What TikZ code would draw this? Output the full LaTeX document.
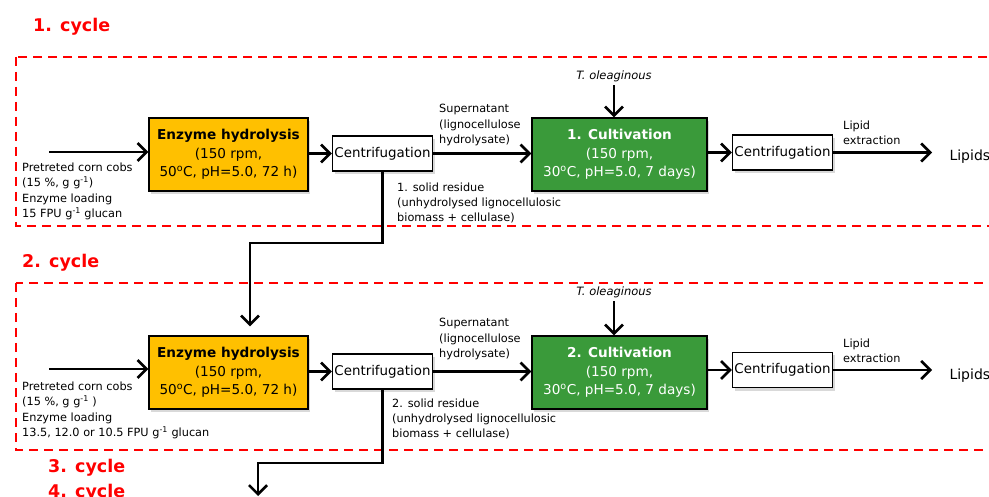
\documentclass[tikz,border=0pt]{standalone}
\usepackage{fontspec}
\setmainfont{DejaVu Sans}
\usetikzlibrary{arrows.meta,shadows}

\begin{document}
\begin{tikzpicture}[x=1pt,y=-1pt,>={Straight Barb[length=9pt,width=18pt]}]

\definecolor{hydorange}{RGB}{255,192,0}
\definecolor{cultgreen}{RGB}{58,154,58}
\definecolor{cyclered}{RGB}{255,0,0}

% Canvas
\useasboundingbox (0,0) rectangle (989,497);
\clip (0,0) rectangle (989,497);

\tikzset{
    process box/.style={
        draw=black, line width=1.3pt, fill=#1,
        rectangle, minimum width=159pt, minimum height=73pt,
        inner sep=2pt, align=center,
        font=\fontsize{13.6}{18.5}\selectfont,
        drop shadow={opacity=0.3, shadow xshift=2pt, shadow yshift=-3pt}
    },
    centri box/.style={
        draw=black, line width=1.3pt, fill=white,
        rectangle, minimum width=100pt, minimum height=35pt,
        inner sep=1pt, font=\fontsize{13.4}{15}\selectfont,
        drop shadow={opacity=0.3, shadow xshift=2pt, shadow yshift=-3pt}
    },
    small label/.style={
        anchor=north west, align=left, inner sep=0pt,
        font=\fontsize{11.3}{15.5}\selectfont
    },
    cycle label/.style={
        anchor=west, inner sep=0pt, text=cyclered,
        font=\bfseries\fontsize{17.5}{20}\selectfont
    },
    cycle frame/.style={
        draw=cyclered, line width=1.6pt, dash pattern=on 9pt off 6pt
    },
    flow/.style={
        ->, line width=2.6pt
    }
}

% --- 1. CYCLE ---
\node[cycle label] (cyc1) at (33,27) {1. cycle};
\draw[cycle frame] (16,57) rectangle (1000,226);

\node[process box=hydorange] (hyd1) at (228.5,154.5) {\textbf{Enzyme hydrolysis}\\(150 rpm,\\50\textsuperscript{o}C, pH=5.0, 72 h)};
\node[centri box] (cen1a) at (382.5,153.5) {Centrifugation};
\node[process box=cultgreen, text=white, minimum width=175pt] (cult1) at (619.5,154.5) {\textbf{1. Cultivation}\\(150 rpm,\\30\textsuperscript{o}C, pH=5.0, 7 days)};
\node[centri box] (cen1b) at (782.5,152.5) {Centrifugation};
\node[font=\itshape\fontsize{11.5}{13}\selectfont] (tole1) at (614,76) {T. oleaginous};
\node[anchor=west, font=\fontsize{14}{16}\selectfont] (lip1) at (946,157) {Lipids};

\node[small label] (feed1) at (22,162.4) {Pretreted corn cobs\\(15 \%, g g\textsuperscript{-1})\\Enzyme loading\\15 FPU g\textsuperscript{-1} glucan};
\node[small label] (sup1) at (439,104.4) {Supernatant\\(lignocellulose\\hydrolysate)};
\node[small label, font=\fontsize{11.3}{15}\selectfont] (res1) at (397,182.4) {1. solid residue\\(unhydrolysed lignocellulosic\\biomass + cellulase)};
\node[small label] (ext1) at (843,120.4) {Lipid\\extraction};

\coordinate (in1) at (49,152);
\coordinate (out1) at (932,152.5);
\coordinate (fb1) at (250,243);

\draw[flow] (in1) -- (in1 -| hyd1.west);
\draw[flow] (hyd1.east |- cen1a.west) -- (cen1a.west);
\draw[flow] (cen1a.east) -- (cen1a.east -| cult1.west);
\draw[flow] (cult1.east |- cen1b.west) -- (cen1b.west);
\draw[flow] (cen1b.east) -- (out1);
\draw[flow] (tole1) -- (tole1 |- cult1.north);

% --- 2. CYCLE ---
\node[cycle label] (cyc2) at (22,263) {2. cycle};
\draw[cycle frame] (16,283) rectangle (1000,450);

\node[process box=hydorange] (hyd2) at (228.5,372.5) {\textbf{Enzyme hydrolysis}\\(150 rpm,\\50\textsuperscript{o}C, pH=5.0, 72 h)};
\node[centri box] (cen2a) at (382.5,371.5) {Centrifugation};
\node[process box=cultgreen, text=white, minimum width=175pt] (cult2) at (619.5,372.5) {\textbf{2. Cultivation}\\(150 rpm,\\30\textsuperscript{o}C, pH=5.0, 7 days)};
\node[centri box] (cen2b) at (782.5,370) {Centrifugation};
\node[font=\itshape\fontsize{11.5}{13}\selectfont] (tole2) at (614,292) {T. oleaginous};
\node[anchor=west, font=\fontsize{14}{16}\selectfont] (lip2) at (946,376) {Lipids};

\node[small label] (feed2) at (22,381.4) {Pretreted corn cobs\\(15 \%, g g\textsuperscript{-1} )\\Enzyme loading\\13.5, 12.0 or 10.5 FPU g\textsuperscript{-1} glucan};
\node[small label] (sup2) at (439,318.4) {Supernatant\\(lignocellulose\\hydrolysate)};
\node[small label, font=\fontsize{11.3}{15}\selectfont] (res2) at (392,398.4) {2. solid residue\\(unhydrolysed lignocellulosic\\biomass + cellulase)};
\node[small label] (ext2) at (843,338.4) {Lipid\\extraction};

\coordinate (in2) at (49,369);
\coordinate (out2) at (932,370);
\coordinate (fb2) at (258,463);
\coordinate (fb3) at (258,496);

\draw[flow] (in2) -- (in2 -| hyd2.west);
\draw[flow] (hyd2.east |- cen2a.west) -- (cen2a.west);
\draw[flow] (cen2a.east) -- (cen2a.east -| cult2.west);
\draw[flow] (cult2.east |- cen2b.west) -- (cen2b.west);
\draw[flow] (cen2b.east) -- (out2);
\draw[flow] (tole2) -- (tole2 |- cult2.north);

% --- SOLID RESIDUE RECYCLING ---
\draw[flow, shorten >=9pt] (cen1a.south) |- (fb1) -- (fb1 |- hyd2.north);
\draw[flow] (cen2a.south) |- (fb2) -- (fb3);

% --- 3. / 4. CYCLE ---
\node[cycle label] (cyc3) at (48,468) {3. cycle};
\node[cycle label] (cyc4) at (48,493) {4. cycle};

\end{tikzpicture}
\end{document}
